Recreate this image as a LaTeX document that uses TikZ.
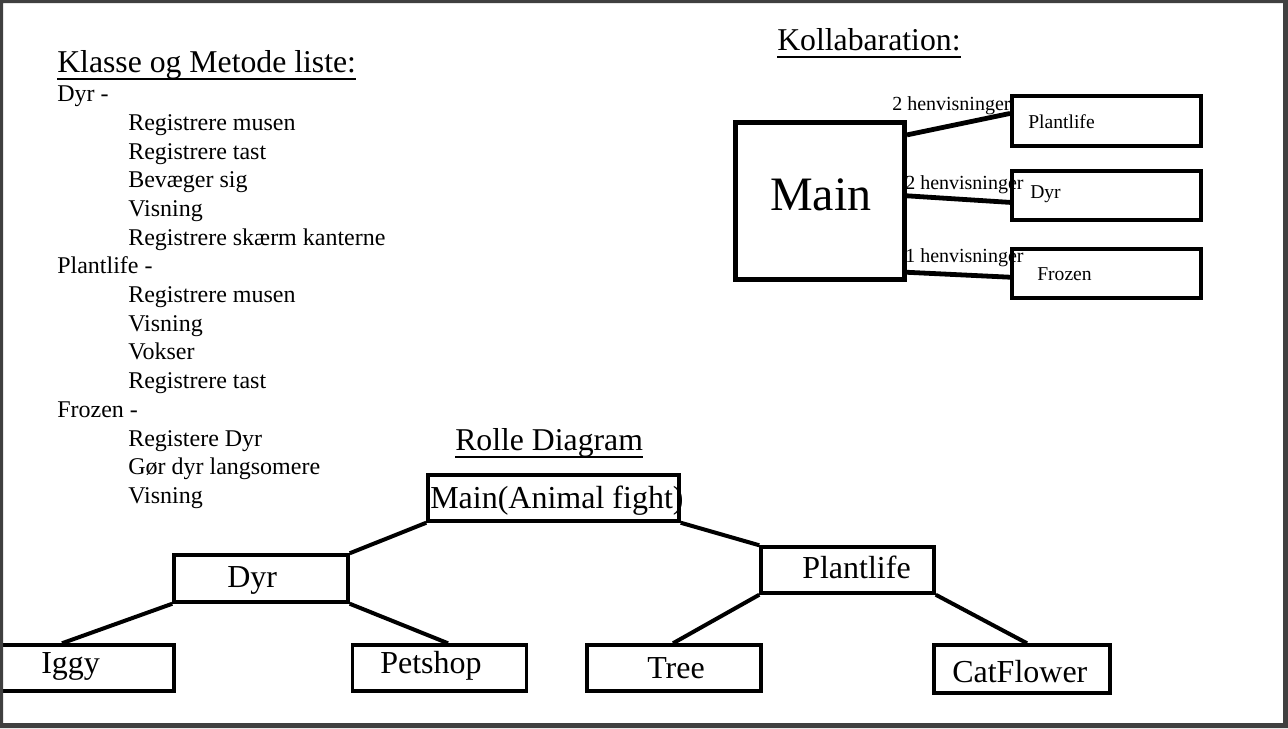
\documentclass[tikz,border=0pt]{standalone}
\usepackage{fontspec}
\setmainfont{Liberation Serif}
\usetikzlibrary{calc}
\begin{document}
\begin{tikzpicture}[x=0.75pt,y=-0.75pt,
  txt/.style={anchor=base west, inner sep=0pt, text=black},
  title/.style={txt, font=\fontsize{23.8pt}{26pt}\selectfont},
  item/.style={txt, font=\fontsize{18pt}{21pt}\selectfont},
  small/.style={txt, font=\fontsize{15pt}{17pt}\selectfont},
  klabel/.style={txt, font=\fontsize{14.7pt}{17pt}\selectfont},
  rlabel/.style={txt, font=\fontsize{24pt}{27pt}\selectfont},
  uline/.style={line width=1.5pt},
  kbox/.style={draw, line width=3pt, inner sep=0pt, minimum width=189*0.75pt, minimum height=49*0.75pt},
  rbox/.style={draw, line width=2.6pt, inner sep=0pt, minimum width=174*0.75pt, minimum height=46*0.75pt},
  kconn/.style={line width=3.6pt},
  rconn/.style={line width=3pt}]
\useasboundingbox (0,0) rectangle (1288,728);
\fill[white] (0,0) rectangle (1288,728);

% ---------- Klasse og Metode liste ----------
\node[title] (t1) at (57,72) {Klasse og Metode liste:};
\draw[uline] ($(t1.base west)+(0,7)$) -- ($(t1.base east)+(0,7)$);
\node[item] (l1) at (57,101) {Dyr -};
\node[item] (l2) at (128,130) {Registrere musen};
\node[item] (l3) at (128,159) {Registrere tast};
\node[item] (l4) at (128,187) {Bevæger sig};
\node[item] (l5) at (128,216) {Visning};
\node[item] (l6) at (128,245) {Registrere skærm kanterne};
\node[item] (l7) at (57,273) {Plantlife -};
\node[item] (l8) at (128,302) {Registrere musen};
\node[item] (l9) at (128,331) {Visning};
\node[item] (l10) at (128,359) {Vokser};
\node[item] (l11) at (128,388) {Registrere tast};
\node[item] (l12) at (57,417) {Frozen -};
\node[item] (l13) at (128,446) {Registere Dyr};
\node[item] (l14) at (128,474) {Gør dyr langsomere};
\node[item] (l15) at (128,503) {Visning};

% ---------- Kollabaration ----------
\node[title] (t2) at (777,50) {Kollabaration:};
\draw[uline] ($(t2.base west)+(0,7)$) -- ($(t2.base east)+(0,7)$);

\node[small] (h1) at (892,110) {2 henvisninger};
\node[small] (h2) at (905,189) {2 henvisninger};
\node[small] (h3) at (905,262) {1 henvisninger};

\node[draw, line width=3.75pt, inner sep=0pt, minimum width=169*0.75pt, minimum height=157*0.75pt] (kmain) at (820,201) {};
\node[txt, font=\fontsize{36pt}{40pt}\selectfont] (kmaint) at (770,210) {Main};

\node[kbox, minimum height=50*0.75pt] (kplant) at (1106.5,121) {};
\node[kbox] (kdyr) at (1106.5,195.5) {};
\node[kbox] (kfrozen) at (1106.5,273.5) {};
\node[klabel] (kplantt) at (1028,128) {Plantlife};
\node[klabel] (kdyrt) at (1030,198) {Dyr};
\node[klabel] (kfrozent) at (1037,280) {Frozen};

\draw[kconn] ($(kmain.north east)!0.092!(kmain.south east)$) -- ($(kplant.north west)!0.36!(kplant.south west)$);
\draw[kconn] ($(kmain.north east)!0.468!(kmain.south east)$) -- ($(kdyr.north west)!0.63!(kdyr.south west)$);
\draw[kconn] ($(kmain.north east)!0.94!(kmain.south east)$) -- ($(kfrozen.north west)!0.57!(kfrozen.south west)$);

% ---------- Rolle Diagram ----------
\node[title] (t3) at (455,450) {Rolle Diagram};
\draw[uline] ($(t3.base west)+(0,7)$) -- ($(t3.base east)+(0,7)$);

\node[rbox, minimum width=251*0.75pt] (rmain) at (553.5,498) {};
\node[rlabel] (rmaint) at (430,508) {Main(Animal fight)};
\node[rbox, minimum height=47*0.75pt] (rdyr) at (261,578.5) {};
\node[rlabel] (rdyrt) at (227,587) {Dyr};
\node[rbox, minimum width=173*0.75pt] (rplant) at (847.5,570) {};
\node[rlabel] (rplantt) at (802,578) {Plantlife};
\node[rbox] (riggy) at (87,668) {};
\node[rlabel] (riggyt) at (41,673) {Iggy};
\node[rbox] (rpet) at (439.5,668) {};
\node[rlabel] (rpett) at (380,673) {Petshop};
\node[rbox] (rtree) at (674,668) {};
\node[rlabel] (rtreet) at (647,678) {Tree};
\node[rbox, minimum width=176*0.75pt, minimum height=48*0.75pt] (rcat) at (1022,669) {};
\node[rlabel] (rcatt) at (952,682) {CatFlower};

\draw[rconn] (rmain.south west) -- (rdyr.north east);
\draw[rconn] (rmain.south east) -- (rplant.north west);
\draw[rconn] (rdyr.south west) -- ($(riggy.north)+(-25,0)$);
\draw[rconn] (rdyr.south east) -- ($(rpet.north)+(8.5,0)$);
\draw[rconn] (rplant.south west) -- ($(rtree.north)+(-1,0)$);
\draw[rconn] (rplant.south east) -- ($(rcat.north)+(5,0)$);

% ---------- frame ----------
\fill[black!75, even odd rule] (0,0) rectangle (1288,728) (3,3) rectangle (1283,723);
\end{tikzpicture}
\end{document}
